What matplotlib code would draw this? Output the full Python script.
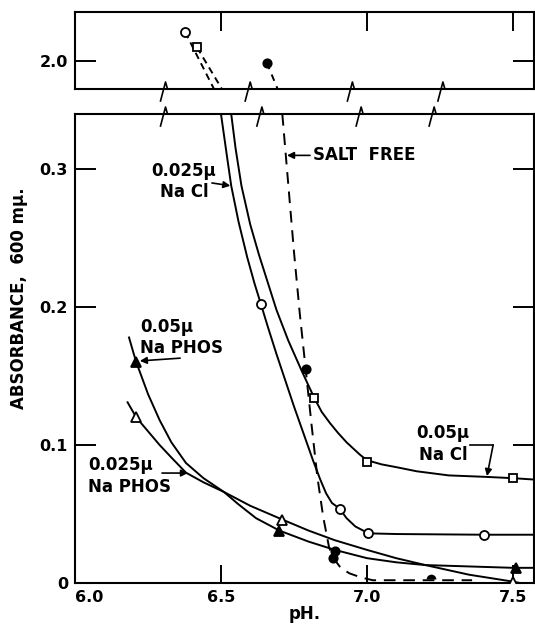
import matplotlib
matplotlib.use("Agg")
import matplotlib.pyplot as plt
from matplotlib.lines import Line2D
from matplotlib.ticker import FixedLocator, FixedFormatter

plt.rcParams["font.family"] = ["DejaVu Sans"]
plt.rcParams["font.weight"] = "bold"

# ---- data (pH, absorbance at 600 mu) ----
# salt free (filled circles, dashed)
sf_top_ph = [6.657, 6.694]
sf_top_abs = [1.99, 1.82]
sf_curve_ph = [6.71, 6.73, 6.75, 6.77, 6.79, 6.81, 6.83, 6.85, 6.87, 6.885, 6.91, 6.94, 6.98, 7.02, 7.36]
sf_curve_abs = [0.34, 0.29, 0.24, 0.195, 0.155, 0.115, 0.077, 0.048, 0.026, 0.018, 0.011, 0.007, 0.004, 0.002, 0.002]
sf_pts_ph = [6.79, 6.89, 6.885]
sf_pts_abs = [0.155, 0.023, 0.018]
sf_half_ph = [7.22]
sf_half_abs = [0.003]

# 0.025 mu NaCl (open circles)
nacl025_top_ph = [6.377, 6.476]
nacl025_top_abs = [2.19, 1.82]
nacl025_curve_ph = [6.50, 6.52, 6.535, 6.56, 6.59, 6.615, 6.637, 6.66, 6.69, 6.72, 6.75, 6.78,
                    6.815, 6.84, 6.86, 6.88, 6.906, 6.93, 6.96, 7.005, 7.1, 7.4, 7.572]
nacl025_curve_abs = [0.34, 0.31, 0.288, 0.262, 0.236, 0.217, 0.202, 0.186, 0.166, 0.147, 0.128, 0.110,
                     0.089, 0.075, 0.065, 0.058, 0.054, 0.047, 0.041, 0.036, 0.0355, 0.035, 0.035]
nacl025_pts_ph = [6.637, 6.906, 7.005, 7.40]
nacl025_pts_abs = [0.202, 0.054, 0.036, 0.035]

# 0.05 mu NaCl (open squares)
nacl05_top_ph = [6.418, 6.503]
nacl05_top_abs = [2.09, 1.82]
nacl05_curve_ph = [6.535, 6.55, 6.57, 6.60, 6.63, 6.66, 6.69, 6.73, 6.776, 6.80, 6.82, 6.845, 6.873,
                   6.90, 6.93, 6.976, 7.0, 7.05, 7.1, 7.17, 7.28, 7.40, 7.50, 7.572]
nacl05_curve_abs = [0.34, 0.315, 0.288, 0.26, 0.238, 0.218, 0.198, 0.176, 0.154, 0.143, 0.134, 0.124, 0.116,
                    0.109, 0.102, 0.093, 0.089, 0.086, 0.084, 0.081, 0.078, 0.077, 0.076, 0.075]
nacl05_pts_ph = [6.82, 7.00, 7.50]
nacl05_pts_abs = [0.134, 0.088, 0.076]

# 0.05 mu Na phosphate (filled triangles)
phos05_curve_ph = [6.185, 6.20, 6.21, 6.25, 6.29, 6.33, 6.38, 6.44, 6.51, 6.56, 6.62, 6.70, 6.80,
                   6.89, 7.0, 7.1, 7.2, 7.35, 7.5, 7.572]
phos05_curve_abs = [0.178, 0.167, 0.160, 0.137, 0.118, 0.102, 0.087, 0.076, 0.066, 0.057, 0.047, 0.038,
                    0.030, 0.024, 0.018, 0.015, 0.013, 0.012, 0.011, 0.011]
phos05_pts_ph = [6.21, 6.70, 7.51]
phos05_pts_abs = [0.160, 0.038, 0.011]

# 0.025 mu Na phosphate (open triangles)
phos025_curve_ph = [6.18, 6.21, 6.25, 6.29, 6.33, 6.38, 6.44, 6.51, 6.60, 6.71, 6.80, 6.89, 7.0,
                    7.1, 7.2, 7.35, 7.5, 7.572]
phos025_curve_abs = [0.131, 0.120, 0.110, 0.100, 0.091, 0.080, 0.073, 0.066, 0.056, 0.046, 0.038, 0.031,
                     0.024, 0.018, 0.013, 0.006, 0.001, -0.002]
phos025_pts_ph = [6.21, 6.71, 7.50]
phos025_pts_abs = [0.120, 0.046, 0.001]

x_ticks = [6.0, 6.5, 7.0, 7.5]
x_labels = ["6.0", "6.5", "7.0", "7.5"]
y_ticks = [0.0, 0.1, 0.2, 0.3]
y_labels = ["0", "0.1", "0.2", "0.3"]
top_y_ticks = [2.0]
top_y_labels = ["2.0"]

break_ph_upper = [6.31, 6.60, 6.95, 7.26]
break_ph_lower = [6.31, 6.64, 6.98, 7.23]

XLIM = (6.0, 7.572)

fig = plt.figure(figsize=(5.35, 6.25), dpi=100)
left, width = 75 / 535, 459 / 535
ax = fig.add_axes([left, 1 - 583 / 625, width, 469 / 625])
axu = fig.add_axes([left, 1 - 89 / 625, width, 77 / 625])

LW = 1.4
solid = dict(color="black", lw=LW, zorder=2)
dashed = dict(color="black", lw=LW, ls=(0, (6, 4)), zorder=2)
mk = dict(ls="none", mec="black", mew=1.3, zorder=3)

# lower panel curves
ax.plot(sf_curve_ph, sf_curve_abs, **dashed)
ax.plot(nacl025_curve_ph, nacl025_curve_abs, **solid)
ax.plot(nacl05_curve_ph, nacl05_curve_abs, **solid)
ax.plot(phos05_curve_ph, phos05_curve_abs, **solid)
ax.plot(phos025_curve_ph, phos025_curve_abs, **solid)

ax.plot(sf_pts_ph, sf_pts_abs, marker="o", ms=6, mfc="black", **mk)
ax.plot(sf_half_ph, sf_half_abs, marker="o", ms=7, fillstyle="top", mfc="black",
        markerfacecoloralt="none", ls="none", mew=0, zorder=3)
ax.plot(nacl025_pts_ph, nacl025_pts_abs, marker="o", ms=6.5, mfc="white", **mk)
ax.plot(nacl05_pts_ph, nacl05_pts_abs, marker="s", ms=5.5, mfc="white", **mk)
ax.plot(phos05_pts_ph, phos05_pts_abs, marker="^", ms=6.5, mfc="black", **mk)
ax.plot(phos025_pts_ph, phos025_pts_abs, marker="^", ms=6.5, mfc="white", **mk)

# upper panel
axu.plot(sf_top_ph, sf_top_abs, color="black", lw=LW, ls=(0, (3.5, 3)))
axu.plot(nacl025_top_ph, nacl025_top_abs, color="black", lw=LW, ls=(0, (3.5, 2.5)))
axu.plot(nacl05_top_ph, nacl05_top_abs, color="black", lw=LW, ls=(0, (3.5, 2.5)))
axu.plot(sf_top_ph[:1], sf_top_abs[:1], marker="o", ms=6, mfc="black", **mk)
axu.plot(nacl025_top_ph[:1], nacl025_top_abs[:1], marker="o", ms=6.5, mfc="white", **mk)
axu.plot(nacl05_top_ph[:1], nacl05_top_abs[:1], marker="s", ms=5.5, mfc="white", **mk)

# axes styling
for a in (ax, axu):
    a.set_xlim(*XLIM)
    for s in a.spines.values():
        s.set_linewidth(1.5)
ax.set_ylim(0, 0.34)
axu.set_ylim(1.82, 2.32)

ax.xaxis.set_major_locator(FixedLocator(x_ticks))
ax.xaxis.set_major_formatter(FixedFormatter(x_labels))
ax.yaxis.set_major_locator(FixedLocator(y_ticks))
ax.yaxis.set_major_formatter(FixedFormatter(y_labels))
ax.tick_params(axis="both", direction="in", length=13, width=1.4, labelsize=11.5, pad=5)
ax.tick_params(axis="y", right=True, length=15, pad=5)
ax.tick_params(axis="x", top=False)
xl = ax.get_xticklabels()
xl[0].set_horizontalalignment("left")

axu.xaxis.set_major_locator(FixedLocator(x_ticks[1:]))
axu.tick_params(axis="x", top=True, bottom=False, labelbottom=False, direction="in",
                length=14, width=1.4)
axu.yaxis.set_major_locator(FixedLocator(top_y_ticks))
axu.yaxis.set_major_formatter(FixedFormatter(top_y_labels))
axu.tick_params(axis="y", right=True, direction="in", length=15, width=1.4,
                labelsize=11.5, pad=5)

ax.set_xlabel("pH.", fontsize=12, fontweight="bold", labelpad=0)
ax.text(-0.122, 0.608, "ABSORBANCE,  600 mμ.", transform=ax.transAxes, rotation=90,
        ha="center", va="center", fontsize=12, fontweight="bold")

# annotations
arrow = dict(arrowstyle="-|>", lw=1.2, color="black", mutation_scale=10, shrinkA=0, shrinkB=0)
ax.annotate("", xy=(6.726, 0.310), xytext=(6.805, 0.310), arrowprops=arrow)
ax.text(6.815, 0.310, "SALT  FREE", fontsize=12, fontweight="bold", va="center", ha="left")

ax.text(6.373, 0.291, "0.025μ\nNa Cl", fontsize=12, fontweight="bold", ha="center",
        va="center", multialignment="center", linespacing=1.25)
ax.annotate("", xy=(6.532, 0.288), xytext=(6.469, 0.290), arrowprops=arrow)

ax.text(6.223, 0.178, "0.05μ\nNa PHOS", fontsize=12, fontweight="bold", ha="left",
        va="center", linespacing=1.25)
ax.annotate("", xy=(6.222, 0.161), xytext=(6.36, 0.163), arrowprops=arrow)

ax.text(6.045, 0.0775, "0.025μ\nNa PHOS", fontsize=12, fontweight="bold", ha="left",
        va="center", linespacing=1.25)
ax.annotate("", xy=(6.387, 0.0797), xytext=(6.298, 0.0797), arrowprops=arrow)

ax.text(7.26, 0.1007, "0.05μ\nNa Cl", fontsize=12, fontweight="bold", ha="center",
        va="center", multialignment="center", linespacing=1.25)
ax.plot([7.353, 7.432], [0.100, 0.100], color="black", lw=1.2)
ax.annotate("", xy=(7.411, 0.0775), xytext=(7.432, 0.100), arrowprops=arrow)

# break marks on the two facing spines
fig.canvas.draw()


def zigzag(a, xs, y_axes):
    for xv in xs:
        px, _ = a.transData.transform((xv, 0))
        _, py = a.transAxes.transform((0, y_axes))
        fig.add_artist(Line2D([px - 5, px, px + 2], [py - 12, py + 7, py],
                              transform=None, color="black", lw=1.2))


zigzag(axu, break_ph_upper, 0.0)
zigzag(ax, break_ph_lower, 1.0)

fig.savefig("out.png", dpi=100)
